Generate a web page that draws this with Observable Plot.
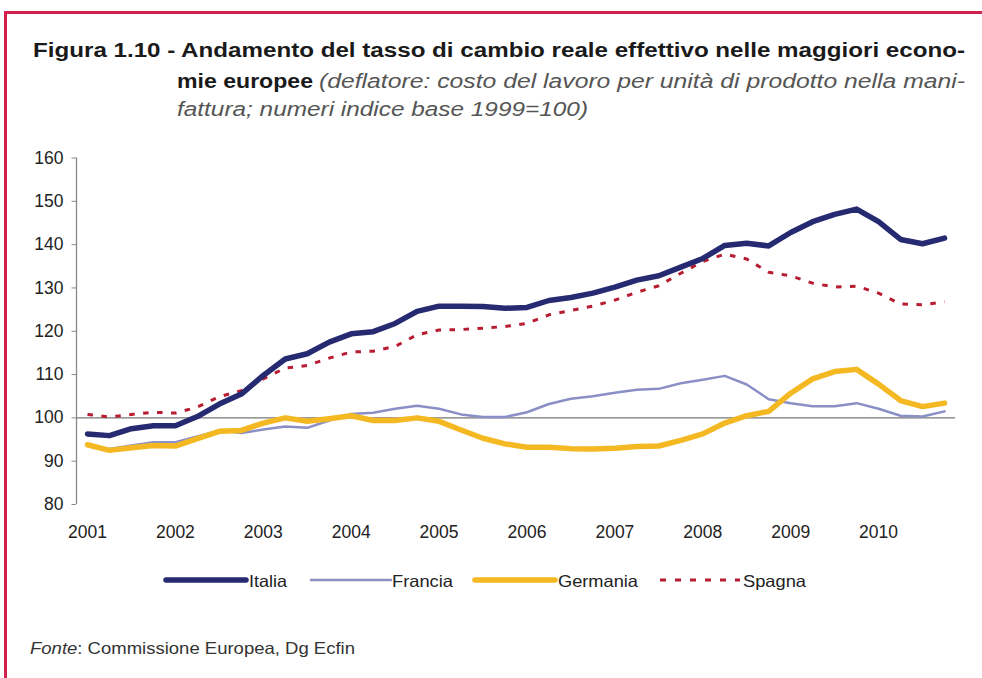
<!DOCTYPE html>
<html>
<head>
<meta charset="utf-8">
<script src="https://cdn.jsdelivr.net/npm/d3@7"></script>
<script src="https://cdn.jsdelivr.net/npm/@observablehq/plot@0.6"></script>
<style>
  html, body { margin: 0; padding: 0; background: #fff; }
  #page { position: relative; width: 982px; height: 678px; overflow: hidden; font-family: "Liberation Sans", Arial, sans-serif; }
  #borderTop { position: absolute; left: 4px; top: 11px; width: 978px; height: 3px; background: #d2204c; }
  #borderLeft { position: absolute; left: 4px; top: 11px; width: 3px; height: 667px; background: #d2204c; }
  #title { position: absolute; left: 0; top: 0; }
  #chart { position: absolute; left: 0; top: 140px; }
  #legend { position: absolute; left: 0; top: 565px; }
  #caption { position: absolute; left: 0; top: 630px; }
</style>
</head>
<body>
<div id="page">
  <div id="borderTop"></div>
  <div id="borderLeft"></div>
  <svg id="title" width="982" height="130"></svg>
  <div id="chart"></div>
  <svg id="legend" width="982" height="32"></svg>
  <svg id="caption" width="982" height="40"></svg>
</div>
<script>
// Tick labels (year at first quarter)
const years = ["2001","2002","2003","2004","2005","2006","2007","2008","2009","2010"];
const seriesNames = ["Italia","Francia","Germania","Spagna"];
// Quarterly values 2001Q1 - 2010Q4
const italia = [96.3,95.9,97.5,98.2,98.2,100.3,103.2,105.5,109.8,113.6,114.8,117.5,
  119.4,119.9,121.8,124.6,125.8,125.8,125.7,125.3,125.5,127.1,127.8,128.8,130.2,131.8,
  132.8,134.8,136.8,139.8,140.3,139.7,142.8,145.3,147.0,148.2,145.3,141.2,140.2,141.5];
const francia = [93.6,92.8,93.6,94.4,94.4,95.7,97.1,96.5,97.3,98.0,97.7,99.4,
  100.9,101.2,102.1,102.8,102.1,100.8,100.2,100.2,101.3,103.2,104.4,105.0,105.8,106.5,
  106.7,108.0,108.8,109.7,107.7,104.3,103.4,102.7,102.7,103.4,102.1,100.5,100.3,101.5];
const germania = [93.8,92.5,93.1,93.6,93.5,95.2,96.9,97.1,98.8,100.0,99.2,99.8,
  100.5,99.4,99.4,100.0,99.2,97.2,95.3,94.0,93.2,93.2,92.9,92.8,93.0,93.4,
  93.5,94.8,96.3,98.8,100.5,101.5,105.7,109.0,110.7,111.2,107.8,104.0,102.6,103.4];
const spagna = [100.8,100.2,100.8,101.3,101.1,102.5,104.9,106.3,109.0,111.5,112.1,113.8,
  115.2,115.4,116.5,119.2,120.3,120.4,120.7,121.1,121.8,123.8,124.8,125.8,127.2,129.0,
  130.5,133.4,136.1,137.8,136.7,133.6,132.8,131.1,130.2,130.4,128.8,126.3,126.1,126.8];
const yTicks = [80,90,100,110,120,130,140,150,160];

const styles = {
  Italia:   {stroke: "#262a70", strokeWidth: 5.5, dash: null},
  Francia:  {stroke: "#8a90c6", strokeWidth: 2.5, dash: null},
  Germania: {stroke: "#f4b922", strokeWidth: 5.5, dash: null},
  Spagna:   {stroke: "#b71c30", strokeWidth: 3, dash: "5.5,8.5"}
};
const values = {Italia: italia, Francia: francia, Germania: germania, Spagna: spagna};
const xTicks = years.map((_, i) => i * 4);

const lineMarks = ["Francia","Spagna","Germania","Italia"].map(name => {
  const data = values[name].map((v, i) => ({q: i, v}));
  const s = styles[name];
  return Plot.line(data, {x: "q", y: "v", stroke: s.stroke, strokeWidth: s.strokeWidth,
    strokeDasharray: s.dash || undefined, strokeLinecap: s.dash ? "butt" : "round", strokeLinejoin: "round"});
});

const plot = Plot.plot({
  width: 982,
  height: 410,
  marginLeft: 76,
  marginRight: 27,
  marginTop: 17.5,
  marginBottom: 46,
  style: {fontFamily: "Liberation Sans, Arial, sans-serif", color: "#222", background: "transparent"},
  x: {domain: [-0.5, 39.5], label: null},
  y: {domain: [80, 160], label: null},
  marks: [
    Plot.axisX({ticks: xTicks, tickFormat: d => years[d / 4], tickSize: 0, tickPadding: 21, fontSize: 17.5, label: null}),
    Plot.axisY({ticks: yTicks, tickSize: 4.5, tickPadding: 8.5, fontSize: 17.5, stroke: "#888", label: null}),
    Plot.ruleY([100], {stroke: "#777", strokeWidth: 1.3}),
    Plot.ruleX([-0.5], {y1: 80, y2: 160, stroke: "#888", strokeWidth: 1.3}),
    ...lineMarks
  ]
});
document.getElementById("chart").appendChild(plot);

// Title
const NS = "http://www.w3.org/2000/svg";
const title = document.getElementById("title");
function addText(svg, x, y, parts, opts = {}) {
  const t = document.createElementNS(NS, "text");
  t.setAttribute("x", x); t.setAttribute("y", y);
  t.setAttribute("font-family", "Liberation Sans, Arial, sans-serif");
  t.setAttribute("font-size", opts.size || 19.5);
  if (opts.len) { t.setAttribute("textLength", opts.len); t.setAttribute("lengthAdjust", "spacingAndGlyphs"); }
  if (opts.anchor) t.setAttribute("text-anchor", opts.anchor);
  parts.forEach(p => {
    const s = document.createElementNS(NS, "tspan");
    s.textContent = p.text;
    if (p.bold) s.setAttribute("font-weight", "bold");
    if (p.italic) s.setAttribute("font-style", "italic");
    s.setAttribute("fill", p.fill || "#1a1a1a");
    t.appendChild(s);
  });
  svg.appendChild(t);
  return t;
}
addText(title, 33, 57, [{text: "Figura 1.10 - Andamento del tasso di cambio reale effettivo nelle maggiori econo-", bold: true}], {len: 932});
addText(title, 177, 88, [{text: "mie europee", bold: true}], {len: 136});
addText(title, 319, 88, [{text: "(deflatore: costo del lavoro per unità di prodotto nella mani-", italic: true, fill: "#555"}], {len: 646});
addText(title, 177, 116, [{text: "fattura; numeri indice base 1999=100)", italic: true, fill: "#555"}], {len: 411});

// Legend
const legend = document.getElementById("legend");
const legendPos = [{x: 166, tx: 249, w: 38}, {x: 311, tx: 392, w: 61}, {x: 475, tx: 558, w: 80}, {x: 660, tx: 743, w: 63}];
seriesNames.forEach((name, i) => {
  const s = styles[name];
  const l = document.createElementNS(NS, "line");
  l.setAttribute("x1", legendPos[i].x); l.setAttribute("x2", legendPos[i].x + 80);
  l.setAttribute("y1", 15); l.setAttribute("y2", 15);
  l.setAttribute("stroke", s.stroke);
  l.setAttribute("stroke-width", s.strokeWidth);
  if (s.dash) l.setAttribute("stroke-dasharray", "6,9");
  else l.setAttribute("stroke-linecap", "round");
  legend.appendChild(l);
  addText(legend, legendPos[i].tx, 21.5, [{text: name, fill: "#222"}], {size: 16.5, len: legendPos[i].w});
});

// Caption
const cap = document.getElementById("caption");
addText(cap, 30, 24, [{text: "Fonte", italic: true, fill: "#333"}, {text: ": Commissione Europea, Dg Ecfin", fill: "#333"}], {size: 16.5, len: 325});
</script>
</body>
</html>
